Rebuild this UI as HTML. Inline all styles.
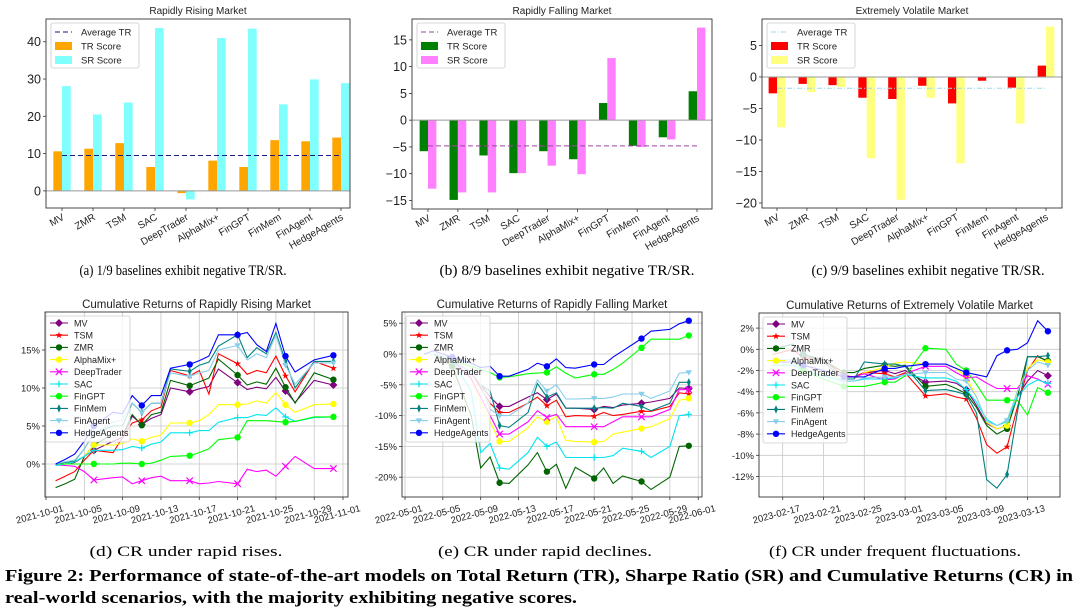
<!DOCTYPE html>
<html><head><meta charset="utf-8"><style>
html,body{margin:0;padding:0;background:#fff;}
svg{display:block;font-family:"Liberation Sans",sans-serif;}
.cap{font-family:"Liberation Serif",serif;}
</style></head><body>
<svg id="fig" width="1080" height="611" viewBox="0 0 1080 611" xmlns="http://www.w3.org/2000/svg">
<rect width="1080" height="611" fill="#fff"/>
<text class="cap" x="183" y="275" font-size="15" text-anchor="middle" textLength="207" lengthAdjust="spacingAndGlyphs">(a) 1/9 baselines exhibit negative TR/SR.</text>
<text class="cap" x="567" y="275" font-size="15" text-anchor="middle" textLength="255" lengthAdjust="spacingAndGlyphs">(b) 8/9 baselines exhibit negative TR/SR.</text>
<text class="cap" x="928" y="275" font-size="15" text-anchor="middle" textLength="233" lengthAdjust="spacingAndGlyphs">(c) 9/9 baselines exhibit negative TR/SR.</text>
<text class="cap" x="186" y="556" font-size="15" text-anchor="middle" textLength="193" lengthAdjust="spacingAndGlyphs">(d) CR under rapid rises.</text>
<text class="cap" x="545" y="556" font-size="15" text-anchor="middle" textLength="214" lengthAdjust="spacingAndGlyphs">(e) CR under rapid declines.</text>
<text class="cap" x="895" y="556" font-size="15" text-anchor="middle" textLength="252" lengthAdjust="spacingAndGlyphs">(f) CR under frequent fluctuations.</text>
<text class="cap" x="5" y="581" font-size="17" font-weight="bold" textLength="1068" lengthAdjust="spacingAndGlyphs">Figure 2: Performance of state-of-the-art models on Total Return (TR), Sharpe Ratio (SR) and Cumulative Returns (CR) in</text>
<text class="cap" x="5" y="603" font-size="17" font-weight="bold" textLength="572" lengthAdjust="spacingAndGlyphs">real-world scenarios, with the majority exhibiting negative scores.</text>
</svg>
<script>
// ---------- bar chart data ----------
const models = ["MV","ZMR","TSM","SAC","DeepTrader","AlphaMix+","FinGPT","FinMem","FinAgent","HedgeAgents"];
const risingTR = [10.6,11.3,12.8,6.4,-0.6,8.1,6.4,13.6,13.3,14.3];
const risingSR = [28.1,20.5,23.7,43.7,-2.3,41.0,43.5,23.2,29.9,28.9];
const risingAvg = 9.5;
const risingTicks = [0,10,20,30,40];
const fallingTR = [-5.8,-14.9,-6.6,-9.9,-5.8,-7.3,3.2,-4.8,-3.2,5.4];
const fallingSR = [-12.8,-13.5,-13.5,-9.9,-8.5,-10.1,11.6,-5.0,-3.6,17.3];
const fallingAvg = -4.8;
const fallingTicks = [-15,-10,-5,0,5,10,15];
const volTR = [-2.6,-1.1,-1.3,-3.3,-3.5,-1.4,-4.2,-0.6,-1.7,1.8];
const volSR = [-8.0,-2.4,-1.6,-12.9,-19.5,-3.3,-13.7,0.1,-7.4,8.0];
const volAvg = -1.8;
const volTicks = [-20,-15,-10,-5,0,5];

// ---------- line chart data ----------
const seriesNames = ["MV","TSM","ZMR","AlphaMix+","DeepTrader","SAC","FinGPT","FinMem","FinAgent","HedgeAgents"];
const riseDays = [1,2,3,4,5,7,8,9,10,11,12,13,15,16,17,18,20,21,22,23,24,25,26,28,30];
const riseMV = [-0.2,0,0.2,1,1.8,3,3.5,6.3,5.2,6,6.5,10,9.5,9.9,10.2,12.5,10.7,9.8,10.1,9.9,11.4,9.6,8.1,11,10.4];
const riseTSM = [-2.2,-1.6,-1,0.5,1.8,1.5,3.5,5.4,5.8,7,7.5,12.3,11.6,12.3,9.2,14.5,13.2,11.8,12.3,12,14.2,11.6,9.5,13.5,12.6];
const riseZMR = [-3.1,-2.6,-2,1,2.5,4,3.8,6.5,5.1,6.5,6.8,11,10.3,10.8,11.3,13.8,11.7,10.4,10.8,10.5,12.6,10.1,8,12,11.1];
const riseAlpha = [-0.2,0,0.3,1,2.5,2.5,2.7,3.3,3,3.5,3.8,5.4,5.4,5.7,6.5,7.8,7.8,7.9,8.3,8,9.4,7.8,6.8,7.8,7.9];
const riseDeep = [-0.1,-0.2,-0.3,-1,-2.1,-1.8,-1.7,-2.6,-2.2,-1.8,-1.6,-2.2,-2.2,-2.6,-2.5,-2.3,-2.6,-0.7,-1,-0.8,-1.6,-0.3,1,-0.6,-0.6];
const riseSAC = [-0.2,0,0.3,1,1.8,1.8,1.9,2.3,2.1,2.6,2.9,4.1,4.1,4.4,4.4,5.5,6.1,6.1,6.5,6.4,7.4,6.2,5.6,6.1,6.2];
const riseGPT = [0,0,0,0,0,0,0.1,0.1,0,0.1,0.5,1,1.1,1.5,2,3.2,3.5,5.7,5.7,5.7,5.6,5.5,5.6,6.2,6.2];
const riseMem = [0,0.2,0.4,2,4,5,5,8,6.8,8,8,12.5,12.2,13,13.4,15.5,17,14,15.3,14.5,17.3,13.5,10,13.5,13.5];
const riseAgent = [0,0.3,0.5,2,4,5.5,5.8,8,6.8,8,8,12,11.5,12,12.3,15,15.6,13.7,14.5,14,17,13,10.5,13.3,13.3];
const riseHA = [0,0.6,1.3,3,5,6.8,6.6,9,7.7,9,9,12.6,13.1,13.6,14.2,17,17,17.3,15.7,14.8,18.5,14.2,12.1,13.7,14.3];
const riseXTicks = ["2021-10-01","2021-10-05","2021-10-09","2021-10-13","2021-10-17","2021-10-21","2021-10-25","2021-10-29","2021-11-01"];
const riseXTickDays = [0,4,8,12,16,20,24,28,31];
const riseYTicks = [0,5,10,15];

const fallDays = [2,3,5,7,8,9,10,11,13,14,15,16,17,18,20,21,22,23,25,26,28,29,30];
const fallMV = [0,0,-1,-3,-5,-7,-8.5,-8.5,-7,-6.3,-7.4,-6.5,-8.8,-8.8,-9,-8.5,-8.7,-8.3,-8,-7.8,-7.2,-5.5,-5.6];
const fallTSM = [0,0,-1,-3,-5.5,-8,-9.5,-9.5,-8,-7,-8.4,-7.5,-10.2,-10,-10.1,-9.5,-10,-9.8,-9.3,-9.3,-8.5,-6.3,-6.5];
const fallZMR = [0,0,-2,-10,-18.5,-16.7,-20.9,-21,-18,-16,-19.1,-17.9,-21.8,-18.4,-20.2,-18.5,-21,-19.8,-20.7,-22,-20,-15,-14.9];
const fallAlpha = [0,0,-1,-4,-8,-11,-14.2,-14.2,-12,-10.2,-11,-10.2,-14,-14.2,-14.3,-14.2,-13,-12.7,-12.1,-11.8,-10.5,-7.5,-7.2];
const fallDeep = [0,0,-1,-4,-7,-10,-13,-13,-11,-9.2,-10.3,-9.8,-11.8,-11.8,-11.8,-11.8,-11,-10.2,-10.2,-10.2,-9,-5.8,-5.8];
const fallSAC = [0,0,-1,-6,-16,-14.5,-18.5,-18.7,-16,-13.5,-15,-14.3,-16.8,-16.8,-16.8,-16.8,-16.5,-15.3,-15.8,-16.8,-15,-10,-9.8];
const fallGPT = [0,0,-1,-2,-2.5,-3,-3.8,-3.7,-3.2,-3.1,-3,-2.1,-3.1,-3.9,-3.3,-3.3,-2.5,-1.5,1,2.4,2.4,2.4,3];
const fallMem = [0,0,-1,-3,-5,-6,-11.6,-11.9,-9.5,-4.8,-7,-6.3,-8.8,-8.8,-8.8,-8.7,-8.8,-8,-8.5,-9.2,-8,-4.6,-4.6];
const fallAgent = [0,0,-1,-3,-5,-9,-10,-10,-8,-4.2,-6,-5,-7.3,-7.3,-7.2,-7.2,-7,-6.5,-6.5,-7.2,-6,-3.1,-3];
const fallHA = [0,0.5,-0.5,-1.5,-2.2,-2,-3.6,-3.6,-2.5,-1.5,-2,-0.8,-2.2,-2.3,-1.7,-1.7,-0.5,0.5,2.5,3.7,4,4.9,5.4];
const fallXTicks = ["2022-05-01","2022-05-05","2022-05-09","2022-05-13","2022-05-17","2022-05-21","2022-05-25","2022-05-29","2022-06-01"];
const fallXTickDays = [0,4,8,12,16,20,24,28,31];
const fallYTicks = [-20,-15,-10,-5,0,5];

const volDays = [-1,1,2,4,6,7,8,10,11,12,14,16,17,18,19,20,21,22,23,24,25,26];
const volMV = [0,0.5,-0.5,-1,-2.5,-2.6,-2.2,-2,-2.3,-2,-3.1,-3,-3.2,-3.8,-5.3,-7,-7.5,-7.2,-4.5,-3,-2,-2.5];
const volTSM = [-0.5,0,-0.8,-1,-2.5,-2.6,-2.2,-2.3,-2.6,-2.2,-4.4,-4.2,-4.5,-4.7,-6.5,-9,-9.8,-9.2,-5.5,-2,-0.6,-1.2];
const volZMR = [0,0.5,-0.5,-1,-2.2,-2.2,-1.8,-1.5,-1.6,-1.5,-3.5,-3.3,-3.7,-4.2,-5.5,-7.2,-8,-7.5,-4.5,-0.7,-0.7,-1.1];
const volAlpha = [-1,-1,-1.5,-2,-2.8,-2.8,-2.2,-1.7,-1.3,-1.2,-1.4,-1.4,-1.8,-2.6,-4.5,-6.9,-7.5,-7.2,-4,-1.8,-1,-1.2];
const volDeep = [-1.2,-1.2,-1.5,-2,-2.6,-2.6,-2.3,-2.9,-2.8,-2.3,-1.6,-1.6,-2.2,-2.7,-2.6,-3.2,-3.7,-3.7,-3.7,-2.5,-2.8,-3.3];
const volSAC = [-1.5,-1.5,-2,-2.5,-3,-3,-2.8,-2.8,-2.7,-2.4,-2.7,-2.7,-3,-3.8,-5,-6.6,-7.2,-6.8,-4.5,-3.4,-2.9,-3.2];
const volGPT = [-1,-1,-2,-2.8,-3.5,-3.5,-3.5,-3.1,-3.1,-2.5,0.1,0,-1.4,-2,-3.3,-4.8,-4.8,-4.8,-4.8,-6.2,-3.6,-4.1];
const volMem = [0,0.5,-0.5,-1.2,-2.8,-2.8,-1.2,-1.4,-1.4,-1.6,-3.9,-3.8,-4,-4.3,-6,-12.3,-13.1,-11.8,-6,-0.7,-0.7,-0.6];
const volAgent = [-1,-1,-1.5,-2,-3,-3,-2.7,-2.6,-2.6,-2.4,-2.2,-2.2,-2.8,-3,-4.5,-6.8,-7.2,-6.7,-4,-2,-1.2,-1.5];
const volHA = [-1.2,-1.2,-1.5,-2,-2.6,-2.6,-2.6,-1.8,-1.8,-1.6,-1.4,-1.4,-1.8,-2.2,-2.4,-2.6,-0.6,-0.1,0,0.6,2.7,1.7];
const volXTicks = ["2023-02-17","2023-02-21","2023-02-25","2023-03-01","2023-03-05","2023-03-09","2023-03-13"];
const volXTickDays = [0,4,8,12,16,20,24];
const volYTicks = [-12,-10,-8,-6,-4,-2,0,2];

const NS="http://www.w3.org/2000/svg";
const svg=document.getElementById('fig');
function mk(tag,attrs,parent){const e=document.createElementNS(NS,tag);for(const k in attrs)e.setAttribute(k,attrs[k]);(parent||svg).appendChild(e);return e;}
function fmt(v){return v<0?'\u2212'+Math.abs(v):String(v);}
function lin(d0,d1,r0,r1){return v=>r0+(v-d0)*(r1-r0)/(d1-d0);}

function barChart(c){
  const g=mk('g',{});
  
  
  const y=lin(c.ymin,c.ymax,c.b,c.t);
  const x=lin(0,9,c.x0,c.x9);
  const bw=(c.x9-c.x0)/9*0.28;
  const t=mk('text',{x:(c.l+c.r)/2,y:c.t-5,'font-size':10,'text-anchor':'middle',fill:'#222'},g);
  t.textContent=c.title;
  
  
  c.ticks.forEach(v=>{
    mk('line',{x1:c.l-3,x2:c.l,y1:y(v),y2:y(v),stroke:'#333','stroke-width':0.8},g);
    const tl=mk('text',{x:c.l-5,y:y(v)+4.5,'font-size':12.5,'text-anchor':'end',fill:'#222'},g);
    tl.textContent=fmt(v);
    
    
  });
  c.tr.forEach((v,i)=>{
    const r=mk('rect',{x:x(i)-bw,y:Math.min(y(v),y(0)),width:bw,height:Math.abs(y(v)-y(0)),fill:c.trColor},g);
    
    
  });
  c.sr.forEach((v,i)=>{
    const r=mk('rect',{x:x(i),y:Math.min(y(v),y(0)),width:bw,height:Math.abs(y(v)-y(0)),fill:c.srColor},g);
    
    
  });
  mk('line',{x1:c.l,x2:c.r,y1:y(0),y2:y(0),stroke:'#999','stroke-width':1},g);
  const av=mk('line',{x1:x(0),x2:x(9),y1:y(c.avg),y2:y(c.avg),stroke:c.avgColor,'stroke-width':1,'stroke-dasharray':c.dash},g);
  
  
  models.forEach((m,i)=>{
    mk('line',{x1:x(i),x2:x(i),y1:c.b,y2:c.b+3,stroke:'#333','stroke-width':0.8},g);
    const xl=mk('text',{x:x(i)+3,y:c.b+11,'font-size':10,'text-anchor':'end',fill:'#222',transform:`rotate(-30 ${x(i)+3} ${c.b+11})`},g);
    xl.textContent=m;
    
    
  });
  mk('rect',{x:c.l,y:c.t,width:c.r-c.l,height:c.b-c.t,fill:'none',stroke:'#333','stroke-width':0.9},g);
  // legend
  const lg=mk('g',{},g);
  
  
  mk('rect',{x:c.lx,y:c.t+4,width:88,height:45,rx:2,fill:'#fff',stroke:'#ccc','stroke-width':0.8},lg);
  const items=[['Average TR',null],['TR Score',c.trColor],['SR Score',c.srColor]];
  items.forEach((it,k)=>{
    const yy=c.t+13+k*14;
    if(it[1]) mk('rect',{x:c.lx+4,y:yy-4,width:17,height:8,fill:it[1]},lg);
    else mk('line',{x1:c.lx+4,x2:c.lx+21,y1:yy,y2:yy,stroke:c.avgColor,'stroke-dasharray':c.dash},lg);
    const tx=mk('text',{x:c.lx+30,y:yy+3.5,'font-size':9.5,fill:'#222'},lg);
    tx.textContent=it[0];
    
    
  });
}

barChart({name:'rising-market-bar-chart',title:'Rapidly Rising Market',l:46,r:350,t:19,b:208,ymin:-4.6,ymax:46.1,x0:62,x9:341,ticks:risingTicks,tr:risingTR,sr:risingSR,avg:risingAvg,trColor:'#ffa500',srColor:'#80ffff',avgColor:'#1a1a80',dash:'5,3',lx:51});
barChart({name:'falling-market-bar-chart',title:'Rapidly Falling Market',l:412,r:712,t:19,b:209,ymin:-16.6,ymax:18.9,x0:428,x9:697,ticks:fallingTicks,tr:fallingTR,sr:fallingSR,avg:fallingAvg,trColor:'#008000',srColor:'#ff80ff',avgColor:'#a040a0',dash:'5,3',lx:417});
barChart({name:'volatile-market-bar-chart',title:'Extremely Volatile Market',l:762,r:1062,t:19,b:208,ymin:-20.8,ymax:9.2,x0:777,x9:1046,ticks:volTicks,tr:volTR,sr:volSR,avg:volAvg,trColor:'#ff0000',srColor:'#ffff80',avgColor:'#9fd8ea',dash:'5,2,1,2',lx:767});

// ---------- line charts ----------
const lcColors=['#800080','#ff0000','#006400','#ffff00','#ff00ff','#00e5ee','#00ff00','#008080','#87ceeb','#0000ff'];
const lcMarkers=['D','*','o','o','x','+','o','d','v','o'];
function marker(g,type,cx,cy,col){
  const s=3.2;
  if(type==='o') return mk('circle',{cx,cy,r:s,fill:col},g);
  if(type==='D') return mk('polygon',{points:`${cx},${cy-s-0.8} ${cx+s+0.8},${cy} ${cx},${cy+s+0.8} ${cx-s-0.8},${cy}`,fill:col},g);
  if(type==='d') return mk('polygon',{points:`${cx},${cy-s-1} ${cx+s*0.6},${cy} ${cx},${cy+s+1} ${cx-s*0.6},${cy}`,fill:col},g);
  if(type==='v') return mk('polygon',{points:`${cx-s},${cy-s*0.7} ${cx+s},${cy-s*0.7} ${cx},${cy+s}`,fill:col},g);
  if(type==='*'){let p=[];for(let k=0;k<10;k++){const a=-Math.PI/2+k*Math.PI/5,rr=k%2?s*0.45:s+0.5;p.push((cx+rr*Math.cos(a)).toFixed(1)+','+(cy+rr*Math.sin(a)).toFixed(1));}return mk('polygon',{points:p.join(' '),fill:col},g);}
  if(type==='x') return mk('path',{d:`M${cx-s} ${cy-s}L${cx+s} ${cy+s}M${cx-s} ${cy+s}L${cx+s} ${cy-s}`,stroke:col,'stroke-width':1.2,fill:'none'},g);
  if(type==='+') return mk('path',{d:`M${cx-s} ${cy}L${cx+s} ${cy}M${cx} ${cy-s}L${cx} ${cy+s}`,stroke:col,'stroke-width':1.2,fill:'none'},g);
}
function lineChart(c){
  const g=mk('g',{});
  
  
  const x=lin(0,1,c.xd0,c.xd0+c.pxPerDay);
  const y=lin(0,1,c.y0,c.y0-c.pxPerPct);
  const t=mk('text',{x:(c.l+c.r)/2,y:c.t-4,'font-size':11.5,'text-anchor':'middle',fill:'#222'},g);
  t.textContent=c.title;
  
  
  c.yticks.forEach(v=>{
    mk('line',{x1:c.l,x2:c.r,y1:y(v),y2:y(v),stroke:'#c8c8c8','stroke-width':0.8},g);
    mk('line',{x1:c.l-3,x2:c.l,y1:y(v),y2:y(v),stroke:'#333','stroke-width':0.8},g);
    const tl=mk('text',{x:c.l-5,y:y(v)+3.5,'font-size':9.5,'text-anchor':'end',fill:'#222'},g);
    tl.textContent=v+'%';
    
    
  });
  c.xtickDays.forEach((d,i)=>{
    const px=x(d);
    mk('line',{x1:px,x2:px,y1:c.t,y2:c.b,stroke:'#c8c8c8','stroke-width':0.8},g);
    mk('line',{x1:px,x2:px,y1:c.b,y2:c.b+3,stroke:'#333','stroke-width':0.8},g);
    const xl=mk('text',{x:px+18,y:c.b+14,'font-size':9.5,'text-anchor':'end',fill:'#222',transform:`rotate(-15 ${px+18} ${c.b+14})`},g);
    xl.textContent=c.xticks[i];
    
    
  });
  c.series.forEach((vals,si)=>{
    const pts=vals.map((v,i)=>x(c.days[i]).toFixed(1)+','+y(v).toFixed(1)).join(' ');
    const pl=mk('polyline',{points:pts,fill:'none',stroke:lcColors[si],'stroke-width':1.1},g);
    
    
    vals.forEach((v,i)=>{ if(c.markRule(c.days[i])) marker(g,lcMarkers[si],x(c.days[i]),y(v),lcColors[si]); });
  });
  mk('rect',{x:c.l,y:c.t,width:c.r-c.l,height:c.b-c.t,fill:'none',stroke:'#333','stroke-width':0.9},g);
  const lg=mk('g',{},g);
  
  
  mk('rect',{x:c.lx,y:c.t+4,width:84,height:126,rx:2,fill:'#fff','fill-opacity':0.8,stroke:'#ccc','stroke-width':0.8},lg);
  seriesNames.forEach((n,k)=>{
    const yy=c.t+11+k*12.2;
    mk('line',{x1:c.lx+4,x2:c.lx+22,y1:yy,y2:yy,stroke:lcColors[k],'stroke-width':1.1},lg);
    marker(lg,lcMarkers[k],c.lx+13,yy,lcColors[k]);
    const tx=mk('text',{x:c.lx+28,y:yy+3.3,'font-size':9,fill:'#222'},lg);
    tx.textContent=n;
    
    
  });
}
lineChart({name:'rising-cumulative-returns-chart',title:'Cumulative Returns of Rapidly Rising Market',l:45,r:348,t:312,b:497,xd0:46,pxPerDay:9.58,y0:464,pxPerPct:7.6,
  days:riseDays,series:[riseMV,riseTSM,riseZMR,riseAlpha,riseDeep,riseSAC,riseGPT,riseMem,riseAgent,riseHA],
  xticks:riseXTicks,xtickDays:riseXTickDays,yticks:riseYTicks,markRule:d=>d%5===0,lx:46});
lineChart({name:'falling-cumulative-returns-chart',title:'Cumulative Returns of Rapidly Falling Market',l:402,r:702,t:312,b:497,xd0:405,pxPerDay:9.46,y0:354,pxPerPct:6.16,
  days:fallDays,series:[fallMV,fallTSM,fallZMR,fallAlpha,fallDeep,fallSAC,fallGPT,fallMem,fallAgent,fallHA],
  xticks:fallXTicks,xtickDays:fallXTickDays,yticks:fallYTicks,markRule:d=>d%5===0,lx:406});
lineChart({name:'volatile-cumulative-returns-chart',title:'Cumulative Returns of Extremely Volatile Market',l:759,r:1060,t:313,b:497,xd0:782.7,pxPerDay:10.2,y0:349.3,pxPerPct:10.6,
  days:volDays,series:[volMV,volTSM,volZMR,volAlpha,volDeep,volSAC,volGPT,volMem,volAgent,volHA],
  xticks:volXTicks,xtickDays:volXTickDays,yticks:volYTicks,markRule:d=>((d-2)%4+4)%4===0,lx:763});
</script>
</body></html>
